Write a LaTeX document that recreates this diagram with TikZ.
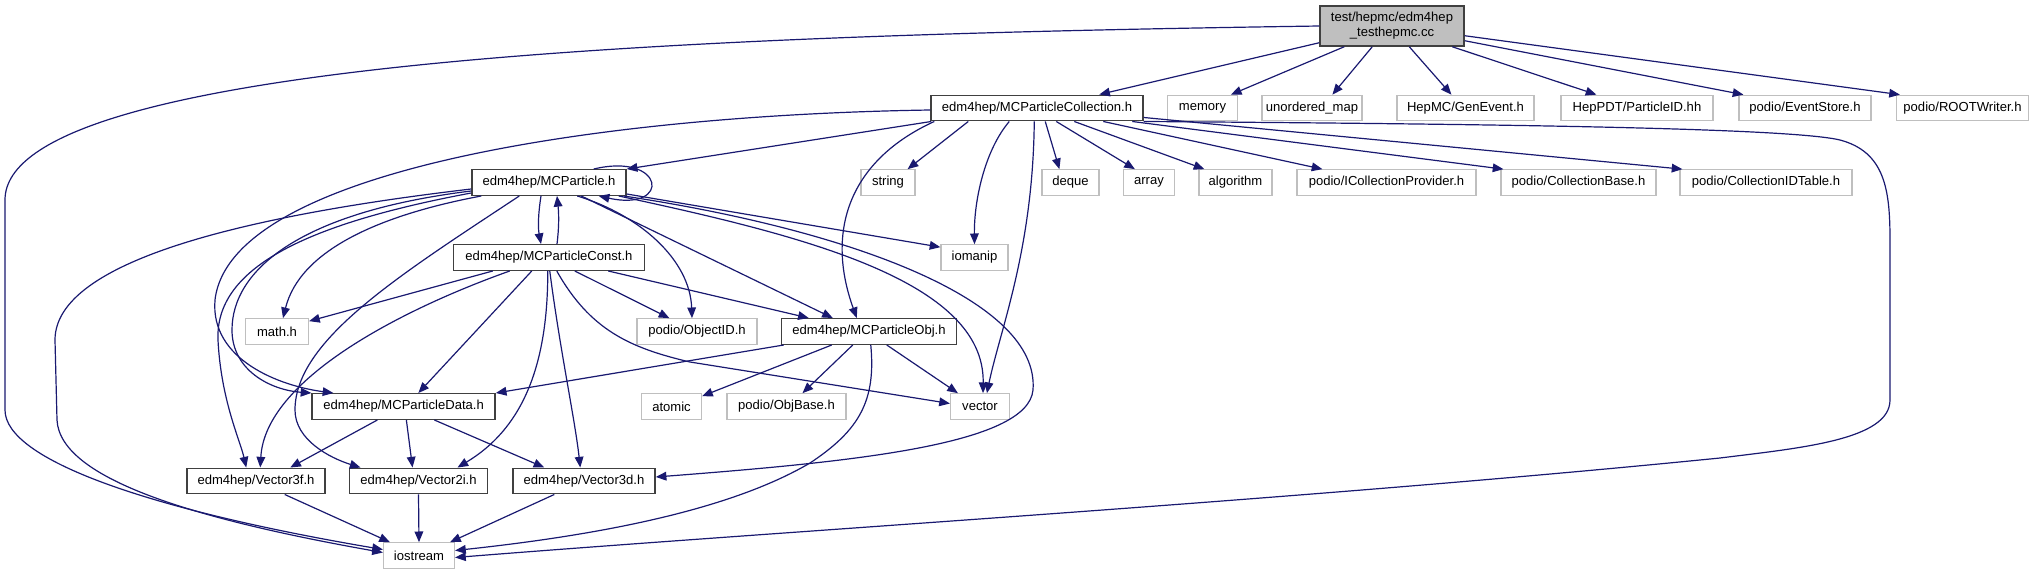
\documentclass[tikz,border=0pt]{standalone}
\usepackage{fontspec}
\setmainfont{Liberation Sans}
\usetikzlibrary{arrows.meta,calc}
\definecolor{edgeblue}{HTML}{191970}
\definecolor{extgray}{HTML}{BFBFBF}
\definecolor{docgray}{HTML}{404040}
\tikzset{
  base/.style={rectangle, inner sep=0pt, minimum height=25.5*0.75pt, font=\fontsize{9.8}{11.25}\selectfont, text=black},
  doc/.style={base, draw=docgray, line width=1.1pt, fill=white},
  ext/.style={base, draw=extgray, line width=0.9pt, fill=white},
  rootbox/.style={base, draw=docgray, fill=extgray, line width=1.1pt, align=center, minimum height=40*0.75pt},
  wd/.style={minimum width=#1*0.75pt},
  edge/.style={draw=edgeblue, line width=0.9pt, -{Triangle[length=8pt,width=6.5pt]}},
}
\begin{document}
\begin{tikzpicture}[x=0.75pt,y=-0.75pt]
\useasboundingbox (0,0) rectangle (2043,575);
% row 0
\node[rootbox,wd=144] (root) at (1392,26) {test/hepmc/edm4hep\\\_testhepmc.cc};
% row 1
\node[doc,wd=212] (coll) at (1037,108) {edm4hep/MCParticleCollection.h};
\node[ext,wd=70] (memory) at (1202.5,108) {memory};
\node[ext,wd=100] (umap) at (1312,108) {unordered\_map};
\node[ext,wd=137] (genevent) at (1465.5,108) {HepMC/GenEvent.h};
\node[ext,wd=152] (particleid) at (1637,108) {HepPDT/ParticleID.hh};
\node[ext,wd=132] (eventstore) at (1805,108) {podio/EventStore.h};
\node[ext,wd=132] (rootwriter) at (1962.5,108) {podio/ROOTWriter.h};
% row 2
\node[doc,wd=154] (mcp) at (549,182.5) {edm4hep/MCParticle.h};
\node[ext,wd=54] (string) at (888,182.5) {string};
\node[ext,wd=57] (deque) at (1070.5,182.5) {deque};
\node[ext,wd=51] (array) at (1149,182.5) {array};
\node[ext,wd=73] (algorithm) at (1235.5,182.5) {algorithm};
\node[ext,wd=179] (icp) at (1386.5,182.5) {podio/ICollectionProvider.h};
\node[ext,wd=155] (cbase) at (1578.5,182.5) {podio/CollectionBase.h};
\node[ext,wd=172] (cidt) at (1766,182.5) {podio/CollectionIDTable.h};
% row 3
\node[doc,wd=191] (const) at (549,257.5) {edm4hep/MCParticleConst.h};
\node[ext,wd=67] (iomanip) at (974.5,257.5) {iomanip};
% row 4
\node[ext,wd=63] (math) at (277,331.5) {math.h};
\node[ext,wd=120] (objectid) at (697,331.5) {podio/ObjectID.h};
\node[doc,wd=175] (obj) at (869,331.5) {edm4hep/MCParticleObj.h};
% row 5
\node[doc,wd=183] (data) at (403.6,406.5) {edm4hep/MCParticleData.h};
\node[ext,wd=60] (atomic) at (671.5,406.5) {atomic};
\node[ext,wd=119] (objbase) at (786.5,406.5) {podio/ObjBase.h};
\node[ext,wd=59] (vector) at (980,406.5) {vector};
% row 6
\node[doc,wd=138] (v3f) at (256,481) {edm4hep/Vector3f.h};
\node[doc,wd=138.5] (v2i) at (418.5,481) {edm4hep/Vector2i.h};
\node[doc,wd=142] (v3d) at (584,481) {edm4hep/Vector3d.h};
% row 7
\node[ext,wd=71] (iostream) at (419,555.5) {iostream};

% ---- edges from root
\draw[edge] ($(root.south west)+(0,-4)$) -- ($(coll.north west)+(169,0)$);
\draw[edge] ($(root.south west)+(25,0)$) -- ($(memory.north west)+(64,0)$);
\draw[edge] ($(root.south west)+(53,0)$) -- ($(umap.north west)+(71,0)$);
\draw[edge] ($(root.south west)+(90,0)$) -- ($(genevent.north west)+(55,0)$);
\draw[edge] ($(root.south west)+(133,0)$) -- ($(particleid.north west)+(36,0)$);
\draw[edge] ($(root.south east)+(0,-6)$) -- ($(eventstore.north west)+(5,0)$);
\draw[edge] ($(root.south east)+(0,-11)$) -- ($(rootwriter.north west)+(4,0)$);
\draw[edge] (root.west) .. controls (700,35) and (5,60) .. (5,200) -- (5,410) .. controls (5,460) and (150,510) .. ($(iostream.west)+(0,-6)$);

% ---- edges from MCParticleCollection.h
\draw[edge] ($(coll.south west)+(1,0)$) -- (mcp.north east);
\draw[edge] ($(coll.west)+(0,2)$) .. controls (600,115) and (230,170) .. (215,300) .. controls (210,360) and (280,386) .. ($(data.north west)+(22,0)$);
\draw[edge] ($(coll.south west)+(4,0)$) .. controls (850,160) and (825,230) .. ($(obj.north west)+(76,0)$);
\draw[edge] ($(coll.south west)+(38,0)$) -- ($(string.north east)+(-8,0)$);
\draw[edge] ($(coll.south west)+(79,0)$) .. controls (985,150) and (974,200) .. (iomanip.north);
\draw[edge] ($(coll.south west)+(104,0)$) .. controls (1033,250) and (1000,330) .. ($(vector.north west)+(37,0)$);
\draw[edge] ($(coll.south west)+(115,0)$) -- ($(deque.north west)+(18,0)$);
\draw[edge] ($(coll.south west)+(126,0)$) -- ($(array.north west)+(12,0)$);
\draw[edge] ($(coll.south west)+(144,0)$) -- ($(algorithm.north west)+(6,0)$);
\draw[edge] ($(coll.south west)+(173,0)$) -- ($(icp.north west)+(26,0)$);
\draw[edge] ($(coll.south west)+(202,0)$) -- ($(cbase.north west)+(3,0)$);
\draw[edge] ($(coll.south east)+(0,-4)$) -- ($(cidt.north west)+(3,0)$);
\draw[edge] (coll.south east) .. controls (1500,124) and (1790,128) .. (1840,140) .. controls (1885,152) and (1890,190) .. (1890,240) -- (1890,400) .. controls (1890,440) and (1800,448) .. (1720,458) .. controls (1300,500) and (800,530) .. ($(iostream.east)+(0,2)$);

% ---- edges from MCParticle.h
\draw[edge] ($(mcp.south)+(-8,0)$) .. controls (538,215) and (538,228) .. ($(const.north)+(-8,0)$);
\draw[edge] ($(mcp.north east)+(-33,0)$) .. controls (665,152) and (672,212) .. ($(mcp.south east)+(-28,0)$);
\draw[edge] ($(mcp.south west)+(10,0)$) .. controls (380,215) and (300,250) .. ($(math.north)+(6,0)$);
\draw[edge] ($(mcp.south west)+(106,0)$) .. controls (640,215) and (690,260) .. ($(objectid.north)+(-5,0)$);
\draw[edge] ($(mcp.south west)+(110,0)$) -- ($(obj.north west)+(52,0)$);
\draw[edge] ($(mcp.south east)+(0,-2)$) -- ($(iomanip.north west)+(0,3)$);
\draw[edge] ($(mcp.south east)+(-8,0)$) .. controls (800,235) and (985,280) .. ($(vector.north)+(3,0)$);
\draw[edge] ($(mcp.south east)+(-3,0)$) .. controls (850,230) and (1040,300) .. (1033,390) .. controls (1028,445) and (850,462) .. ($(v3d.east)+(0,-4)$);
\draw[edge] ($(mcp.south west)+(0,-5)$) .. controls (300,212) and (232,270) .. (232,330) .. controls (232,370) and (270,390) .. (data.north west);
\draw[edge] ($(mcp.south west)+(0,-3)$) .. controls (300,225) and (215,270) .. (218,340) .. controls (221,400) and (240,440) .. ($(v3f.north west)+(60,0)$);
\draw[edge] ($(mcp.south west)+(48,0)$) .. controls (400,275) and (295,340) .. (295,410) .. controls (295,440) and (330,458) .. ($(v2i.north west)+(12,0)$);
\draw[edge] ($(mcp.south west)+(0,-7)$) .. controls (250,215) and (55,260) .. (55,340) -- (57,420) .. controls (60,480) and (200,520) .. ($(iostream.west)+(0,-3)$);

% ---- edges from MCParticleConst.h
\draw[edge] ($(const.north)+(8,0)$) .. controls (559,228) and (559,215) .. ($(mcp.south)+(8,0)$);
\draw[edge] ($(const.south west)+(40,0)$) -- ($(math.north east)+(0,3)$);
\draw[edge] ($(const.south west)+(79,0)$) -- ($(data.north west)+(107,0)$);
\draw[edge] ($(const.south west)+(57,0)$) .. controls (400,310) and (265,380) .. ($(v3f.north west)+(74,0)$);
\draw[edge] ($(const.south west)+(95,0)$) .. controls (548,370) and (520,430) .. ($(v2i.north east)+(-31,0)$);
\draw[edge] ($(const.south west)+(97,0)$) .. controls (560,350) and (575,420) .. ($(v3d.north west)+(68,0)$);
\draw[edge] ($(const.south west)+(104,0)$) .. controls (590,330) and (630,348) .. (690,362) -- ($(vector.west)+(0,-3)$);
\draw[edge] ($(const.south west)+(122,0)$) -- ($(objectid.north west)+(33,0)$);
\draw[edge] ($(const.south east)+(-37,0)$) -- ($(obj.north west)+(28,0)$);

% ---- edges from MCParticleObj.h
\draw[edge] ($(obj.south west)+(3,0)$) -- (data.north east);
\draw[edge] ($(obj.south west)+(51,0)$) -- ($(atomic.north east)+(0,3)$);
\draw[edge] ($(obj.south west)+(72,0)$) -- ($(objbase.north)+(16,0)$);
\draw[edge] ($(obj.south west)+(106,0)$) -- ($(vector.north west)+(8,0)$);
\draw[edge] ($(obj.south west)+(90,0)$) .. controls (876,400) and (860,430) .. (810,463) .. controls (730,510) and (600,535) .. ($(iostream.east)+(0,-5)$);

% ---- edges from MCParticleData.h
\draw[edge] ($(data.south west)+(66,0)$) -- ($(v3f.north west)+(104,0)$);
\draw[edge] ($(data.south west)+(95,0)$) -- ($(v2i.north west)+(64,0)$);
\draw[edge] ($(data.south west)+(123,0)$) -- ($(v3d.north west)+(32,0)$);

% ---- vectors to iostream
\draw[edge] ($(v3f.south east)+(-41,0)$) -- ($(iostream.north west)+(7,0)$);
\draw[edge] (v2i.south) -- (iostream.north);
\draw[edge] ($(v3d.south west)+(42,0)$) -- ($(iostream.north east)+(-5,0)$);
\end{tikzpicture}
\end{document}
